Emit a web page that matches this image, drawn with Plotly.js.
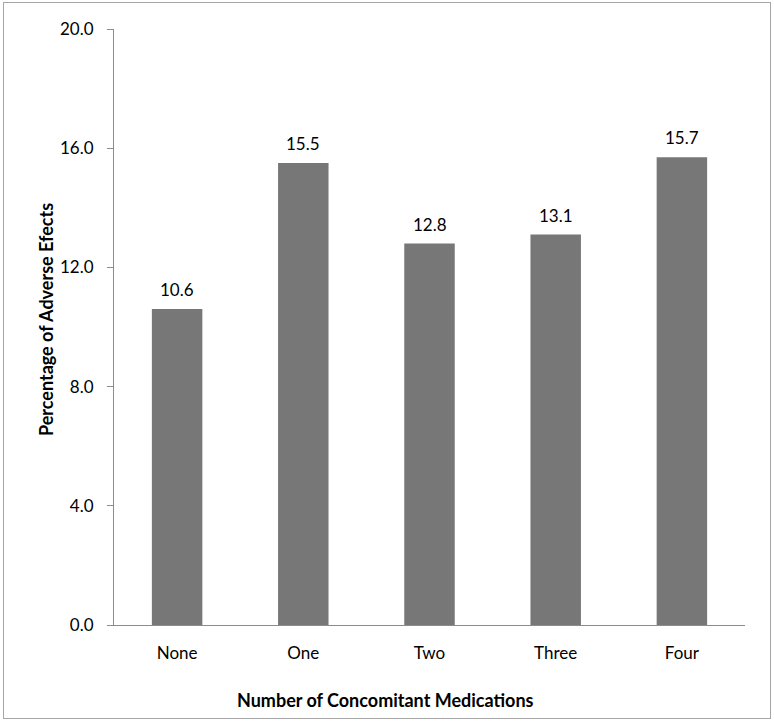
<!DOCTYPE html>
<html>
<head>
<meta charset="utf-8">
<script src="https://cdn.plot.ly/plotly-3.0.1.min.js"></script>
<style>
  body { margin: 0; background: #fff; }
  #frame {
    position: absolute; left: 3px; top: 2px;
    width: 768px; height: 717px;
    border: 1px solid #a6a6a6; box-sizing: border-box;
  }
</style>
</head>
<body>
<div id="frame"><div id="chart"></div></div>
<script>
const categories = ['None', 'One', 'Two', 'Three', 'Four'];
const percentages = [10.6, 15.5, 12.8, 13.1, 15.7];
const yTicks = [0, 4, 8, 12, 16, 20];
const yTickText = ['0.0', '4.0', '8.0', '12.0', '16.0', '20.0'];

const font = { family: 'Lato, "Open Sans", sans-serif', size: 17, color: '#000' };
const titleFont = { family: 'Lato, "Open Sans", sans-serif', size: 18, color: '#000' };

const trace = {
  x: categories,
  y: percentages,
  type: 'bar',
  marker: { color: '#777777' },
  hoverinfo: 'x+y'
};

// value labels above each bar
const valueLabels = categories.map((c, i) => ({
  x: c,
  y: percentages[i],
  text: percentages[i].toFixed(1),
  showarrow: false,
  yanchor: 'bottom',
  yshift: 7,
  font: font
}));

const layout = {
  width: 766,
  height: 715,
  margin: { l: 110, r: 25, t: 26, b: 93 },
  paper_bgcolor: '#fff',
  plot_bgcolor: '#fff',
  font: font,
  bargap: 0.6,
  showlegend: false,
  xaxis: {
    type: 'category',
    showline: true,
    linecolor: '#8c8c8c',
    linewidth: 1,
    ticks: '',
    showgrid: false,
    ticklabelstandoff: 13,
    tickfont: font
  },
  yaxis: {
    range: [0, 20],
    tickvals: yTicks,
    ticktext: yTickText,
    showline: true,
    linecolor: '#8c8c8c',
    linewidth: 1,
    ticks: 'outside',
    ticklen: 6,
    tickcolor: '#8c8c8c',
    showgrid: false,
    zeroline: false,
    ticklabelstandoff: 10,
    tickfont: font
  },
  annotations: valueLabels.concat([
    {
      xref: 'paper', yref: 'paper',
      x: (385 - 114) / 631, y: (625 - 700) / 596,
      text: '<b>Number of Concomitant Medications</b>',
      showarrow: false, xanchor: 'center', yanchor: 'middle',
      font: titleFont
    },
    {
      xref: 'paper', yref: 'paper',
      x: (46 - 114) / 631, y: (625 - 320) / 596,
      text: '<b>Percentage of Adverse Efects</b>',
      textangle: -90,
      showarrow: false, xanchor: 'center', yanchor: 'middle',
      font: titleFont
    }
  ])
};

Plotly.newPlot('chart', [trace], layout, { displayModeBar: false, responsive: false });
</script>
</body>
</html>
